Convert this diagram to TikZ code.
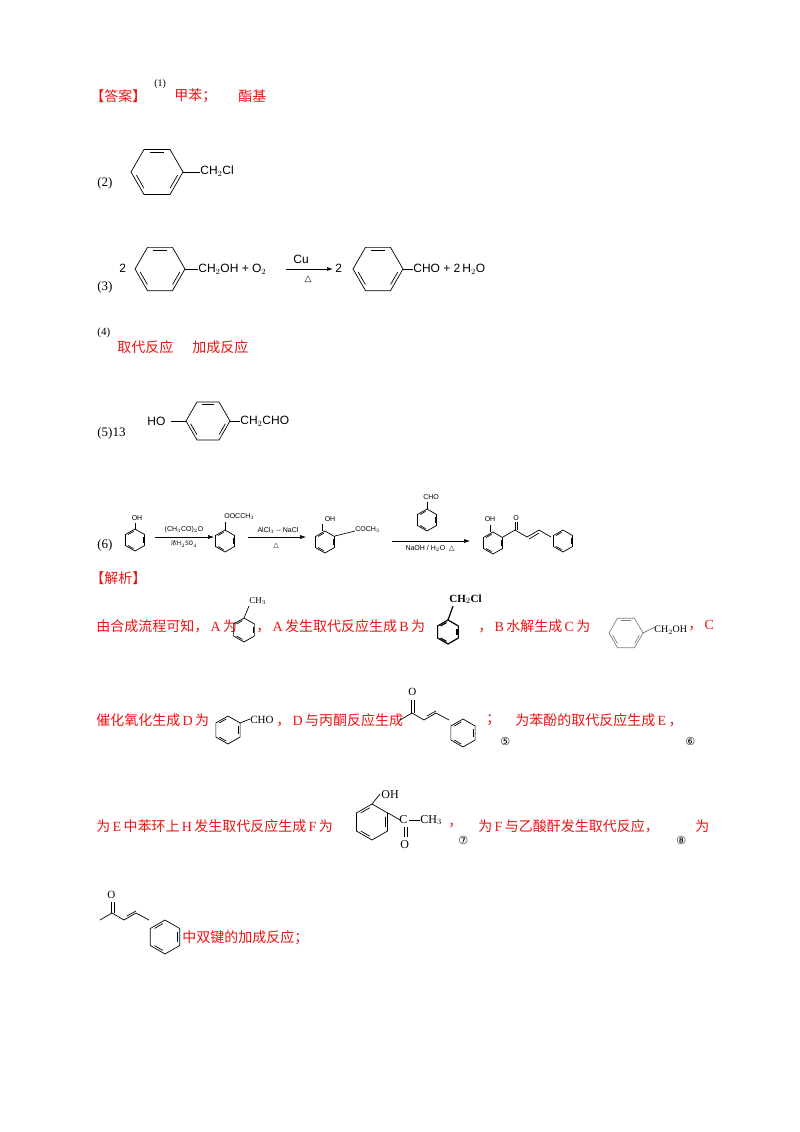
\documentclass[tikz,border=0pt]{standalone}
\usepackage{fontspec}
\setmainfont{Liberation Serif}
\newfontfamily\cjk{Noto Sans CJK SC}
\newfontfamily\ar{Liberation Sans}
\newfontfamily\djv{DejaVu Sans}
\usetikzlibrary{calc,arrows.meta}
\definecolor{rd}{RGB}{235,20,20}
\newcommand\bz[4]{\begin{scope}[shift={(#1,#2)},rotate=#4]
\draw (0:#3)--(60:#3)--(120:#3)--(180:#3)--(240:#3)--(300:#3)--cycle;
\foreach \a in {0,120,240}{\draw ({\a+9}:{0.8*#3})--({\a+51}:{0.8*#3});}
\end{scope}}
\newcommand\La[1]{\,{\fontspec{Liberation Serif}#1}\,}
\tikzset{rt/.style={text=rd,font=\cjk\fontsize{14}{16}\selectfont,inner sep=0,anchor=west},
 ch/.style={font=\ar\fontsize{12}{14}\selectfont,inner sep=0,anchor=west},
 sm/.style={font=\ar\fontsize{7}{8}\selectfont,inner sep=0},
 bl/.style={font=\fontsize{13}{15}\selectfont,inner sep=0,anchor=west},
 arr/.style={-{Latex[length=6pt,width=4pt]}}}
\begin{document}
\begin{tikzpicture}[x=1pt,y=-1pt,line width=0.7pt]
\useasboundingbox[fill=white] (0,0) rectangle (800,1132);
% (1)
\node[rt] (t1) at (90,96) {【答案】};
\node[bl,font=\fontsize{10}{12}\selectfont] (n1) at (154,84) {(1)};
\node[rt] (t2) at (174,96) {甲苯；};
\node[rt] (t3) at (238,96) {酯基};
% (2)
\node[bl] (n2) at (97,183) {(2)};
\bz{157}{172}{26}{0}
\draw (183,172)--(200,172);
\node[ch] (c2) at (200,171) {CH$_2$Cl};
% (3)
\node[bl] (n3) at (97,287) {(3)};
\node[ch] (k1) at (119,268) {2};
\bz{160}{269}{25}{0}
\draw (185,269)--(198,269);
\node[ch] (c3) at (198,269) {CH$_2$OH + O$_2$};
\draw[arr] (286,269)--(333,269);
\node[ch] (cu) at (293,259) {Cu};
\node[sm,font=\djv\fontsize{9}{9}\selectfont] (tr) at (308,279) {△};
\node[ch] (k2) at (335,268) {2};
\bz{378}{269}{25}{0}
\draw (403,269)--(413,269);
\node[ch] (c4) at (413,269) {CHO + 2\,H$_2$O};
% (4)
\node[bl,font=\fontsize{11}{12}\selectfont] (n4) at (97,333) {(4)};
\node[rt] (t4) at (117,347) {取代反应};
\node[rt] (t5) at (192,347) {加成反应};
% (5)
\node[bl] (n5) at (97,433) {(5)13};
\node[ch] (ho) at (147,421) {HO};
\draw (171,421)--(186,421);
\bz{208}{421}{22}{0}
\draw (230,421)--(240,421);
\node[ch] (c5) at (240,421) {CH$_2$CHO};
% (6)
\node[bl] (n6) at (97,545) {(6)};
\bz{135}{540}{11}{30}
\draw (135,529)--(135,523); \node[sm] at (137,518) {OH};
\draw[line width=0.5pt,arr] (155,537)--(214,537);
\node[sm] at (184,530) {(CH$_3$CO)$_2$O};
\node[sm,font=\cjk\fontsize{6}{7}\selectfont] at (184,544) {浓H$_2$SO$_4$};
\bz{225}{541}{11}{30}
\draw (225,530)--(225,522); \node[sm,anchor=west] at (224,517) {OOCCH$_3$};
\draw[line width=0.5pt,arr] (248,537)--(306,537);
\node[sm] at (278,530) {AlCl$_3$ -- NaCl};
\node[sm,font=\djv\fontsize{7}{7}\selectfont] at (276,546) {△};
\bz{325}{542}{11}{30}
\draw (322,531)--(322,524); \node[sm] at (330,519) {OH};
\draw (335,536)--(355,531); \node[sm,anchor=west] at (355,530) {COCH$_3$};
\draw[line width=0.5pt,arr] (392,541)--(470,541);
\bz{427}{520}{11}{30}
\draw (427,509)--(427,502); \node[sm,anchor=west] at (423,497) {CHO};
\node[sm] at (430,548) {NaOH / H$_2$O \ {\djv △}};
\bz{493}{543}{11}{30}
\draw (490,532)--(490,525); \node[sm] at (490,519) {OH};
\draw (503,537)--(515,530)--(527,537)--(539,530)--(551,537);
\draw (515,530)--(515,522); \draw (517,530)--(517,522); \node[sm] at (516,518) {O};
\draw (529,539)--(539,533);
\bz{563}{541}{11}{30}
% 解析
\node[rt] (t6) at (90,578) {【解析】};
\node[rt] at (96,626) {由合成流程可知，\La{A}为};
\bz{244}{630}{12}{30}
\draw (244,618)--(249,606); \node[ch,font=\fontsize{9}{10}\selectfont] at (249,601) {CH$_3$};
\node[rt] at (256,626) {，\La{A}发生取代反应生成\La{B}为};
\begin{scope}[line width=1.2pt]\bz{448}{632}{12}{30}\end{scope}
\draw[line width=1.2pt] (448,620)--(453,606); \node[ch,font=\bfseries\fontsize{11}{12}\selectfont\rmfamily] at (449,599) {CH$_2$Cl};
\node[rt] at (478,626) {，\La{B}水解生成\La{C}为};
\begin{scope}[gray]\bz{626}{633}{17}{0}\end{scope}
\draw[gray] (643,633)--(655,627); \node[ch,font=\fontsize{10}{11}\selectfont\rmfamily] at (654,630) {CH$_2$OH};
\node[rt] at (688,626) {，\La{C}};
\node[rt] at (96,720) {催化氧化生成\La{D}为};
\bz{228}{730}{14}{30}
\draw (240,723)--(250,719); \node[ch,font=\fontsize{11}{12}\selectfont\rmfamily] at (250,720) {CHO};
\node[rt] at (276,720) {，\La{D}与丙酮反应生成};
\draw (400,720)--(412,713)--(424,720)--(436,713)--(449,720);
\draw (411,713)--(411,700); \draw (414,713)--(414,700); \node[ch,font=\fontsize{11}{12}\selectfont] at (408,692) {O};
\draw (427,716)--(436,711);
\bz{463}{733}{14}{30}
\node[rt] at (486,720) {；};
\node[rt] at (515,720) {为苯酚的取代反应生成\La{E}，};
\node[bl,font=\djv\fontsize{11}{12}\selectfont] at (500,741) {⑤};
\node[bl,font=\djv\fontsize{11}{12}\selectfont] at (685,741) {⑥};
\node[rt] at (96,826) {为\La{E}中苯环上\La{H}发生取代反应生成\La{F}为};
\bz{372}{822}{18}{30}
\draw (372,804)--(380,794); \node[ch,font=\fontsize{12}{13}\selectfont] at (381,795) {OH};
\draw (388,813)--(400,820); \node[ch,font=\fontsize{12}{13}\selectfont] at (399,820) {C};
\draw (409,820)--(420,820); \node[ch,font=\fontsize{12}{13}\selectfont] at (420,820) {CH$_3$};
\draw (404,827)--(404,837); \draw (407,827)--(407,837);
\node[ch,font=\fontsize{12}{13}\selectfont] at (400,845) {O};
\node[rt] at (448,826) {，};
\node[bl,font=\djv\fontsize{11}{12}\selectfont] at (458,840) {⑦};
\node[rt] at (478,826) {为\La{F}与乙酸酐发生取代反应，};
\node[bl,font=\djv\fontsize{11}{12}\selectfont] at (676,840) {⑧};
\node[rt] at (695,826) {为};
\draw (100,920)--(112,913)--(124,920)--(136,913)--(149,920);
\draw (111,913)--(111,902); \draw (114,913)--(114,902); \node[ch,font=\fontsize{11}{12}\selectfont] at (107,895) {O};
\draw (127,916)--(136,911);
\bz{165}{937}{17}{30}
\node[rt] at (182,938) {中双键的加成反应；};
\end{tikzpicture}
\end{document}
